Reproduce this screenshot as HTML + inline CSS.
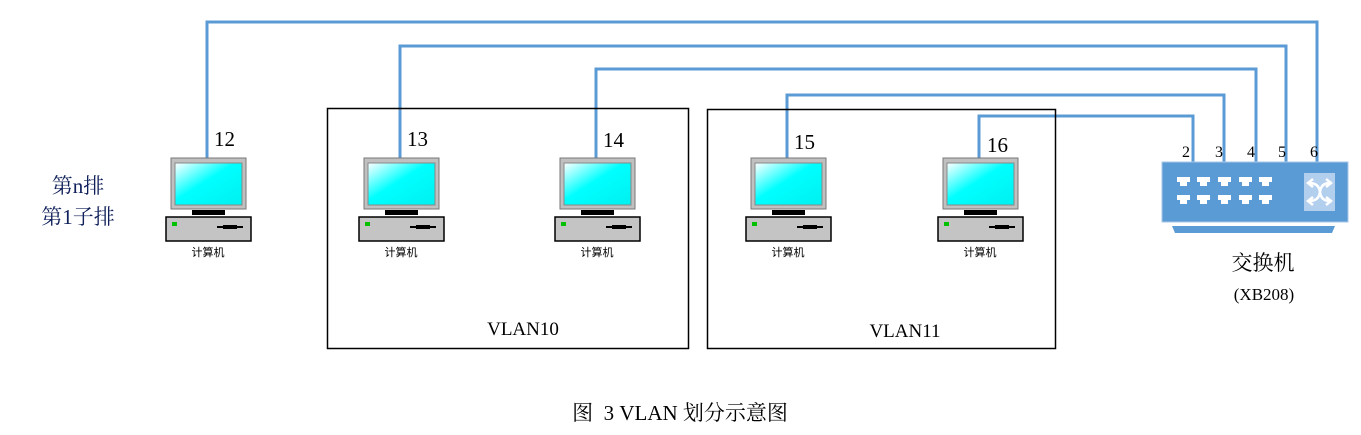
<!DOCTYPE html>
<html><head><meta charset="utf-8"><style>
body{margin:0;background:#fff;}
svg{display:block;font-family:"Liberation Serif","Noto Serif CJK SC",serif;}
</style></head><body>
<svg width="1361" height="435" viewBox="0 0 1361 435" xmlns="http://www.w3.org/2000/svg">
<defs>
<linearGradient id="scr" x1="0" y1="0" x2="1" y2="1">
<stop offset="0" stop-color="#ffffff"/><stop offset="0.45" stop-color="#00ffff"/><stop offset="1" stop-color="#00f0f0"/>
</linearGradient>
<g id="pc">
<rect x="-36" y="158" width="75" height="51" fill="#c0c0c0" stroke="#777" stroke-width="1"/>
<rect x="-32" y="163" width="67" height="42" fill="url(#scr)" stroke="#888" stroke-width="1"/>
<rect x="-15" y="210" width="33" height="5" fill="#000"/>
<rect x="-41" y="217" width="85" height="24" fill="#c4c4c4" stroke="#000" stroke-width="1.5"/>
<rect x="-35" y="222" width="5" height="4" fill="#00c000"/>
<rect x="10" y="226" width="26" height="2" fill="#000"/>
<rect x="16" y="225" width="14" height="4" fill="#000"/>
<text x="1" y="256" font-size="11" text-anchor="middle" font-family="Liberation Sans,Noto Sans CJK SC,sans-serif">计算机</text>
</g>
<path id="port" d="M0,0 h13 v5 h-3 v4 h-7 v-4 h-3 z" fill="#fff"/>
</defs>
<g fill="none" stroke="#5b9bd5" stroke-width="3">
<polyline points="207,158 207,22 1317,22 1317,162"/>
<polyline points="400,158 400,46 1286,46 1286,162"/>
<polyline points="596,158 596,69 1256,69 1256,162"/>
<polyline points="787,158 787,95 1224,95 1224,162"/>
<polyline points="979,158 979,116 1193,116 1193,162"/>
</g>
<use href="#pc" x="207"/>
<use href="#pc" x="400"/>
<use href="#pc" x="596"/>
<use href="#pc" x="787"/>
<use href="#pc" x="979"/>
<g font-size="21" fill="#000">
<text x="214" y="146">12</text><text x="407" y="146">13</text><text x="603" y="147">14</text><text x="794" y="149">15</text><text x="987" y="152">16</text>
</g>
<rect x="327.5" y="108.5" width="361" height="240" fill="none" stroke="#000" stroke-width="1.5"/>
<rect x="707.5" y="109.5" width="348" height="239" fill="none" stroke="#000" stroke-width="1.5"/>
<text x="523" y="335" font-size="19" text-anchor="middle">VLAN10</text>
<text x="905" y="337" font-size="19" text-anchor="middle">VLAN11</text>
<text x="78" y="193" font-size="21" text-anchor="middle" fill="#10205a">第n排</text>
<text x="78" y="224" font-size="21" text-anchor="middle" fill="#10205a">第1子排</text>
<g font-size="16" text-anchor="middle"><text x="1186" y="157">2</text><text x="1219" y="157">3</text><text x="1251" y="157">4</text><text x="1282" y="157">5</text><text x="1314" y="157">6</text></g>
<rect x="1162" y="162" width="186" height="60" fill="#5b9bd5" stroke="#a9c7e8" stroke-width="1"/>
<polygon points="1172,226 1335,226 1332,233 1175,233" fill="#5b9bd5"/>
<use href="#port" x="1177" y="177"/><use href="#port" x="1197" y="177"/><use href="#port" x="1218" y="177"/><use href="#port" x="1239" y="177"/><use href="#port" x="1259" y="177"/>
<use href="#port" x="1177" y="195"/><use href="#port" x="1197" y="195"/><use href="#port" x="1218" y="195"/><use href="#port" x="1239" y="195"/><use href="#port" x="1259" y="195"/>
<rect x="1304" y="173" width="31" height="38" fill="#b3cfee"/>
<g stroke="#fff" stroke-width="2.5" fill="none"><path d="M1309,183 Q1319,183 1320,192 Q1321,201 1330,201"/><path d="M1309,201 Q1319,201 1320,192 Q1321,183 1330,183"/>
<path d="M1326,179 L1331,183 L1326,187"/><path d="M1326,197 L1331,201 L1326,205"/><path d="M1313,179 L1308,183 L1313,187"/><path d="M1313,197 L1308,201 L1313,205"/></g>
<text x="1263" y="270" font-size="21" text-anchor="middle">交换机</text>
<text x="1264" y="300" font-size="17" text-anchor="middle">(XB208)</text>
<text x="680" y="420" font-size="21" text-anchor="middle">图&#160;&#160;3 VLAN 划分示意图</text>
</svg>
</body></html>
